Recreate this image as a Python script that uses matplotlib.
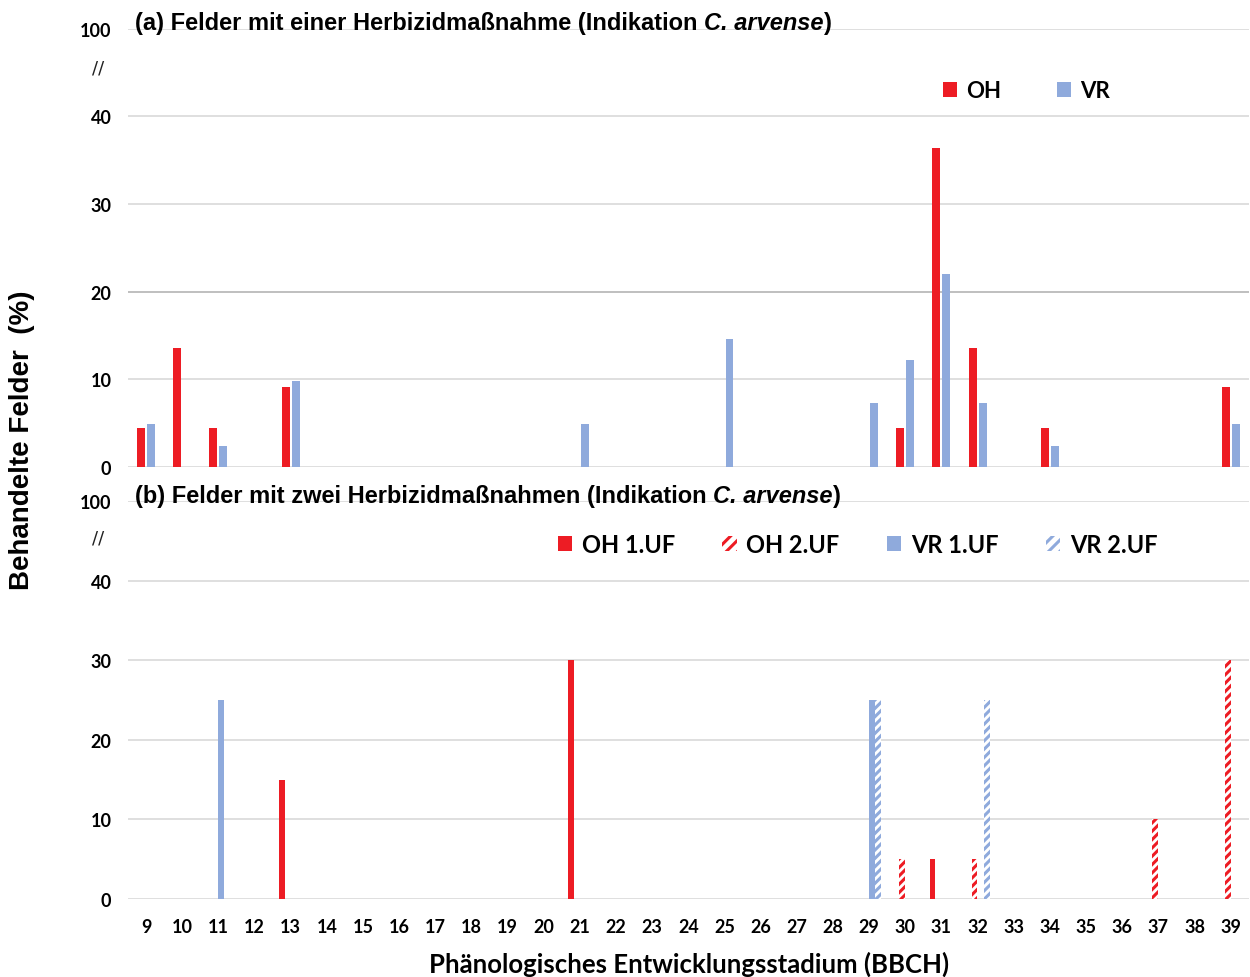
import numpy as np
import matplotlib
matplotlib.use('Agg')
import matplotlib.pyplot as plt
from matplotlib.patches import Patch
from matplotlib.text import Annotation

# BBCH stages on the x axis
stages = list(range(9, 40))

# (a) fields with one herbicide treatment (%)
oh_a = {9: 4.5, 10: 13.6, 11: 4.5, 13: 9.1, 30: 4.5, 31: 36.4, 32: 13.6, 34: 4.5, 39: 9.1}
vr_a = {9: 4.9, 11: 2.4, 13: 9.8, 21: 4.9, 25: 14.6, 29: 7.3, 30: 12.2, 31: 22.0,
        32: 7.3, 34: 2.4, 39: 4.9}

# (b) fields with two herbicide treatments (%)
oh1_b = {13: 15, 21: 30, 31: 5}
oh2_b = {30: 5, 32: 5, 37: 10, 39: 30}
vr1_b = {11: 25, 29: 25}
vr2_b = {29: 25, 32: 25}

yticks = [0, 10, 20, 30, 40, 50]
ylabels_tick = ['0', '10', '20', '30', '40', '100']

RED = '#ED1C24'
BLUE = '#8FAADC'
GRID = '#d9d9d9'
CAL = 'Lato'
ARI = 'Liberation Sans'

plt.rcParams['hatch.linewidth'] = 2.2


def series(d):
    return np.array([d.get(s, 0) for s in stages], dtype=float)


x = np.arange(len(stages))

fig = plt.figure(figsize=(12.5, 9.78), dpi=100)
ax1 = fig.add_axes([0.1024, 0.5215, 0.8966, 0.4483])
ax2 = fig.add_axes([0.1024, 0.0798, 0.8966, 0.4064])

for ax in (ax1, ax2):
    ax.set_xlim(-0.5, len(stages) - 0.5)
    ax.set_ylim(0, 50)
    ax.set_yticks(yticks)
    ax.set_yticklabels(ylabels_tick, fontfamily=CAL, fontweight='bold', fontsize=13)
    ax.grid(axis='y', color=GRID, linewidth=1.2)
    ax.set_axisbelow(True)
    for sp in ax.spines.values():
        sp.set_visible(False)
    ax.tick_params(axis='both', length=0, pad=12)
    # axis break mark
    ax.text(-0.027, 45.5, '//', transform=ax.get_yaxis_transform(), ha='center',
            va='center', fontsize=13, color='#222222')

# darker 20 line in the upper panel
ax1.get_ygridlines()[2].set_color('#b4b4b4')

# panel (a)
w = 0.22
ax1.bar(x - 0.138, series(oh_a), w, color=RED, zorder=3)
ax1.bar(x + 0.138, series(vr_a), w, color=BLUE, zorder=3)
ax1.set_xticks([])

# panel (b)
wb = 0.16
ax2.bar(x - 0.25, series(oh1_b), wb, color=RED, zorder=3)
ax2.bar(x - 0.083, series(oh2_b), wb, color='white', edgecolor=RED, hatch='////',
        linewidth=0, zorder=3)
ax2.bar(x + 0.083, series(vr1_b), wb, color=BLUE, zorder=3)
ax2.bar(x + 0.25, series(vr2_b), wb, color='white', edgecolor=BLUE, hatch='////',
        linewidth=0, zorder=3)
ax2.set_xticks(x)
ax2.set_xticklabels([str(s) for s in stages], fontfamily=CAL, fontweight='bold', fontsize=13)
ax2.tick_params(axis='x', pad=14)

# titles with italic species name
for ypos, label in [(0.9693, '(a) Felder mit einer Herbizidmaßnahme (Indikation '),
                    (0.4857, '(b) Felder mit zwei Herbizidmaßnahmen (Indikation ')]:
    t1 = fig.text(0.108, ypos, label, fontfamily=ARI, fontweight='bold', fontsize=17,
                  va='baseline')
    a2 = fig.add_artist(Annotation('C. arvense', xy=(1, 0), xycoords=t1, va='bottom',
                                   fontfamily=ARI, fontweight='bold', style='italic',
                                   fontsize=17))
    fig.add_artist(Annotation(')', xy=(1, 0), xycoords=a2, va='bottom',
                              fontfamily=ARI, fontweight='bold', fontsize=17))

# legends
leg_a = [Patch(facecolor=RED, label='OH'), Patch(facecolor=BLUE, label='VR')]
fig.legend(handles=leg_a, loc='center', bbox_to_anchor=(0.821, 0.906), ncol=2,
           frameon=False, handlelength=0.65, handleheight=0.65, handletextpad=0.4,
           columnspacing=2.5, prop={'family': CAL, 'weight': 'bold', 'size': 16})

leg_b = [Patch(facecolor=RED, label='OH 1.UF'),
         Patch(facecolor='white', edgecolor=RED, hatch='///', linewidth=0, label='OH 2.UF'),
         Patch(facecolor=BLUE, label='VR 1.UF'),
         Patch(facecolor='white', edgecolor=BLUE, hatch='///', linewidth=0, label='VR 2.UF')]
fig.legend(handles=leg_b, loc='center', bbox_to_anchor=(0.686, 0.4427), ncol=4,
           frameon=False, handlelength=0.62, handleheight=0.62, handletextpad=0.4,
           columnspacing=2.0, prop={'family': CAL, 'weight': 'bold', 'size': 17})

fig.text(0.018, 0.55, 'Behandelte Felder  (%)', rotation=90, ha='center', va='center',
         fontfamily=ARI, fontweight='bold', fontsize=20)
fig.text(0.551, 0.0143, 'Phänologisches Entwicklungsstadium (BBCH)', ha='center',
         va='center', fontfamily=CAL, fontweight='bold', fontsize=18.5)

fig.savefig('out.png', dpi=100)
